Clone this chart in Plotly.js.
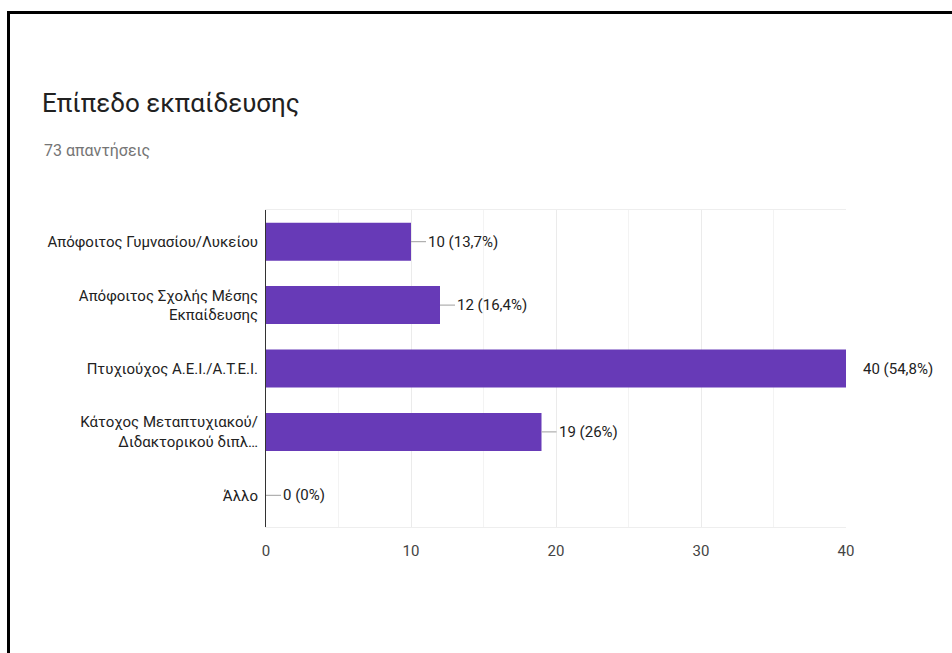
<!DOCTYPE html>
<html>
<head>
<meta charset="utf-8">
<script src="https://cdn.plot.ly/plotly-3.0.1.min.js"></script>
<style>
  html, body { margin: 0; padding: 0; background: #fff; }
  #chart { position: absolute; left: 0; top: 0; width: 952px; height: 653px; }
  #frame { position: absolute; left: 7px; top: 11px; width: 960px; height: 660px;
           border-top: 3px solid #000; border-left: 3px solid #000; pointer-events: none; }
</style>
</head>
<body>
<div id="chart"></div>
<div id="frame"></div>
<script>
const categories = [
  "Απόφοιτος Γυμνασίου/Λυκείου",
  "Απόφοιτος Σχολής Μέσης<br>Εκπαίδευσης",
  "Πτυχιούχος Α.Ε.Ι./Α.Τ.Ε.Ι.",
  "Κάτοχος Μεταπτυχιακού/<br>Διδακτορικού διπλ…",
  "Άλλο"
];
const counts = [10, 12, 40, 19, 0];
const valueLabels = ["10 (13,7%)", "12 (16,4%)", "40 (54,8%)", "19 (26%)", "0 (0%)"];
const titleText = "Επίπεδο εκπαίδευσης";
const subtitleText = "73 απαντήσεις";
const xTicks = [0, 10, 20, 30, 40];

const FONT = "Roboto, Arial, sans-serif";
const W = 952, H = 653;
const L = 266, R = 106, T = 210, B = 126;
const pw = W - L - R, ph = H - T - B;
const xMax = 40;

const annotations = categories.map((c, i) => ({
  x: counts[i], y: c, xref: "x", yref: "y",
  text: valueLabels[i], showarrow: true, arrowhead: 0, arrowwidth: 1,
  arrowcolor: counts[i] >= xMax ? "rgba(0,0,0,0)" : "#9e9e9e",
  ax: 15, ay: 0, xanchor: "left", yanchor: "middle",
  font: { family: FONT, size: 15, color: "#222" }
}));
annotations.push({
  xref: "paper", yref: "paper",
  x: (42 - L) / pw, y: (H - B - 150) / ph,
  xanchor: "left", yanchor: "middle", showarrow: false,
  text: subtitleText, font: { family: FONT, size: 16, color: "#757575" }
});

const data = [{
  type: "bar", orientation: "h",
  y: categories, x: counts,
  marker: { color: "#673ab7", line: { width: 0 } },
  hoverinfo: "none"
}];

const layout = {
  width: W, height: H,
  margin: { l: L, r: R, t: T, b: B, pad: 0 },
  paper_bgcolor: "#fff", plot_bgcolor: "#fff",
  showlegend: false,
  bargap: 0.4,
  title: {
    text: titleText, xref: "container", yref: "container",
    x: 42 / W, xanchor: "left", y: 1 - 103 / H, yanchor: "middle",
    font: { family: FONT, size: 26, color: "#212121" }
  },
  xaxis: {
    range: [0, xMax], tickvals: xTicks, ticktext: xTicks.map(String),
    showgrid: true, gridcolor: "#ebebeb", gridwidth: 1,
    minor: { dtick: 5, showgrid: true, gridcolor: "#f3f3f3", gridwidth: 1 },
    showline: true, linecolor: "#eeeeee", linewidth: 1, mirror: true,
    zeroline: false, ticks: "", ticklen: 0,
    ticklabelstandoff: 10,
    tickfont: { family: FONT, size: 15, color: "#444" },
    fixedrange: true
  },
  yaxis: {
    autorange: "reversed",
    showline: true, linecolor: "#333", linewidth: 1,
    showgrid: false, zeroline: false, ticks: "",
    ticklabelstandoff: 4,
    tickfont: { family: FONT, size: 15, color: "#222" },
    fixedrange: true
  },
  annotations: annotations
};

Plotly.newPlot("chart", data, layout, { displayModeBar: false, staticPlot: true });
</script>
</body>
</html>
